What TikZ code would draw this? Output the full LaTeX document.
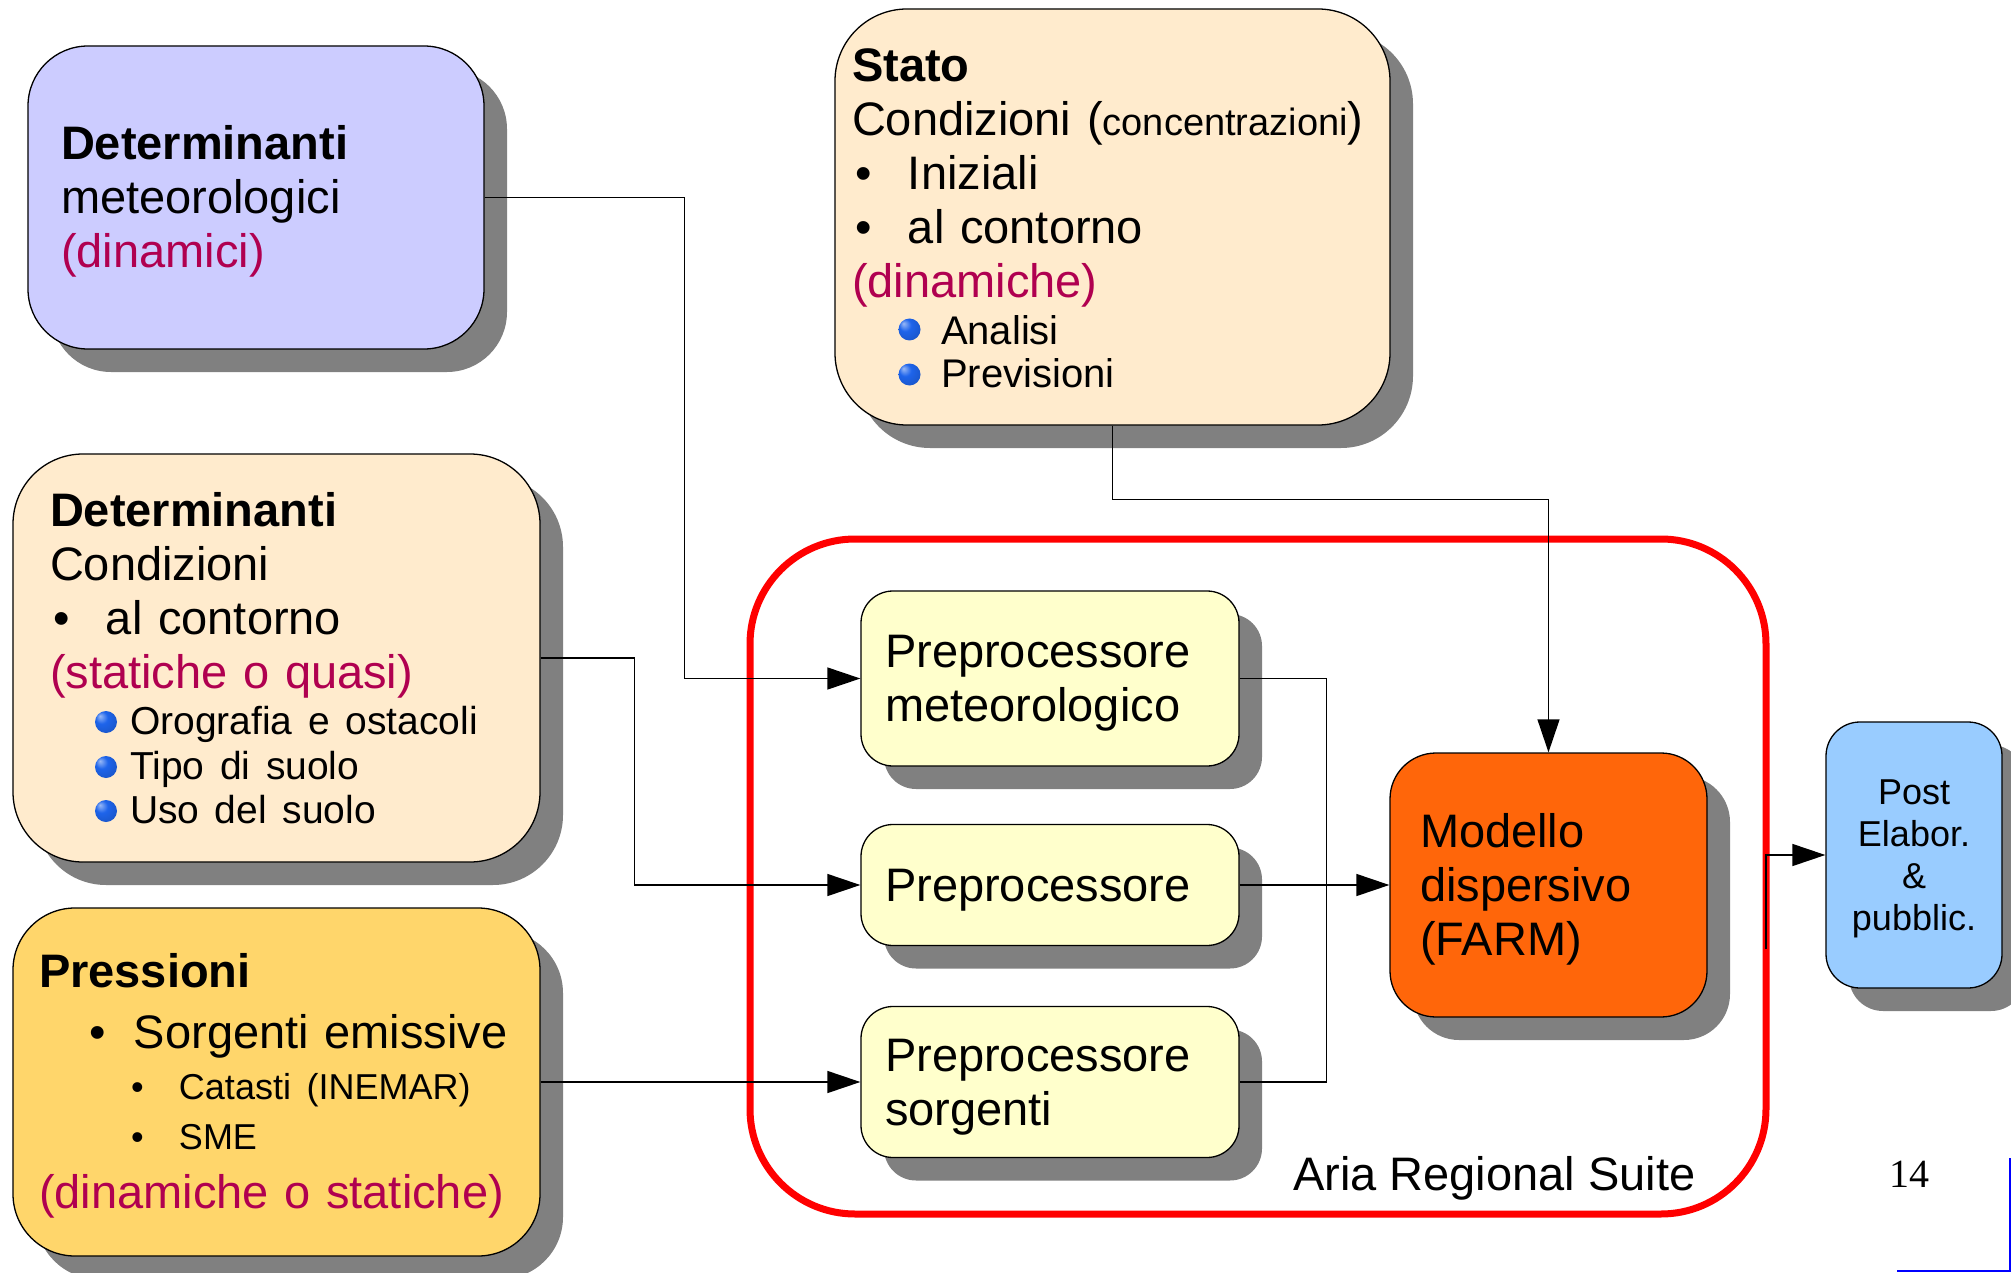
\documentclass[tikz,border=0pt]{standalone}
\usepackage{fontspec}
\setmainfont{Liberation Sans}
\newfontfamily\serifnum{Liberation Serif}
\usetikzlibrary{arrows.meta,shadows}
\definecolor{metblue}{RGB}{204,204,255}
\definecolor{cream}{RGB}{255,235,205}
\definecolor{pressyel}{RGB}{255,214,107}
\definecolor{prepyel}{RGB}{255,255,204}
\definecolor{farmorange}{RGB}{255,102,10}
\definecolor{postblue}{RGB}{153,204,255}
\definecolor{crimson}{RGB}{176,0,80}
\definecolor{shadowgray}{RGB}{128,128,128}
\definecolor{suitered}{RGB}{255,0,0}
\definecolor{ballblue}{RGB}{30,100,235}
\pgfdeclareradialshading{blueball}{\pgfpoint{-14bp}{14bp}}{%
  color(0bp)=(white!55!ballblue); color(14bp)=(ballblue);
  color(34bp)=(ballblue!85!black); color(50bp)=(ballblue!60!black)}
\newcommand\fsz[2]{\fontsize{#1}{#2}\selectfont}
\newcommand\blt[2]{\hspace*{#1pt}\makebox[#2pt][l]{\textbullet}}
\newcommand\dstrut{\rule[-.212em]{0pt}{0pt}}

\begin{document}
\begin{tikzpicture}[x=1pt,y=-1pt,
  panel/.style={draw, line width=1.3pt, inner ysep=0pt, align=left, font=\fsz{47}{54},
    execute at begin node={\rule{0pt}{.905em}},
    execute at end node={\ifvmode\else\dstrut\fi},
    drop shadow={shadow xshift=23pt, shadow yshift=-23pt, fill=shadowgray, opacity=1}},
  prepbox/.style={panel, fill=prepyel, rounded corners=32pt, inner xsep=24pt, text width=330pt},
  ball/.style={shading=blueball},
  link/.style={line width=1.3pt},
  arr/.style={link, -{Triangle[length=33pt,width=22pt]}}]
\useasboundingbox (0,0) rectangle (2011,1273);

% suite frame
\node[draw=suitered, line width=7pt, rounded corners=105pt, inner sep=0pt,
  minimum width=1016pt, minimum height=675pt] (suite) at (1258,876.5) {};
\node[anchor=base west, inner sep=0pt, font=\fsz{47}{54}] (suitelbl) at (1293,1190) {Aria Regional Suite};

% inputs
\node[panel, fill=metblue, rounded corners=60pt, inner xsep=33pt, text width=390pt, minimum height=303pt] (detmet) at (256,197.5)
  {{\bfseries Determinanti}\par meteorologici\par \color{crimson}(dinamici)};
\node[panel, fill=cream, rounded corners=72pt, inner xsep=17pt, text width=521pt, minimum height=416pt] (stato) at (1112.5,217)
  {{\bfseries Stato}\par
   Condizioni ({\fsz{38}{54}concentrazioni})\par
   \blt{3}{53}Iniziali\par
   \blt{3}{53}al contorno\par
   {\color{crimson}(dinamiche)}\par
   {\fsz{40}{47}\hspace*{89pt}Analisi\par}
   {\fsz{40}{43}\hspace*{89pt}Previsioni\dstrut\par}};
\node[panel, fill=cream, rounded corners=70pt, inner xsep=37pt, text width=453pt, minimum height=408pt] (detcond) at (276.5,658)
  {{\bfseries Determinanti}\par
   Condizioni\par
   \blt{3}{53}al contorno\par
   {\color{crimson}(statiche o quasi)}\par
   {\fsz{39}{46}\hspace*{80pt}Orografia e ostacoli\par}
   {\fsz{39}{45}\hspace*{80pt}Tipo di suolo\par}
   {\fsz{39}{44}\hspace*{80pt}Uso del suolo\dstrut\par}};
\node[panel, fill=pressyel, rounded corners=62pt, inner xsep=26pt, text width=475pt, minimum height=348pt] (press) at (276.5,1082)
  {{\bfseries Pressioni}\par
   {\fsz{47}{61}\blt{50}{45}Sorgenti emissive\par}
   {\fsz{36}{51}\blt{92}{48}Catasti (INEMAR)\par}
   {\fsz{36}{50}\blt{92}{48}SME\par}
   {\fsz{47}{59}\color{crimson}(dinamiche o statiche)\dstrut\par}};

% suite content
\node[prepbox, minimum height=175pt] (prepmet) at (1050,678.5) {Preprocessore\par meteorologico};
\node[prepbox, minimum height=121pt] (prep) at (1050,885) {Preprocessore};
\node[prepbox, minimum height=151pt] (prepsorg) at (1050,1082) {Preprocessore\par sorgenti};
\node[panel, fill=farmorange, rounded corners=46pt, inner xsep=30pt, text width=257pt, minimum height=264pt] (modello) at (1548.5,885)
  {Modello\par dispersivo\par (FARM)};

% output
\node[panel, fill=postblue, rounded corners=34pt, inner xsep=10pt, text width=156pt, minimum height=266pt,
  align=center, font=\fsz{36}{42}] (post) at (1914,855) {Post\par Elabor.\par \&\par pubblic.};

% ball bullets
\foreach \y in {329.5,374.5} \shade[ball] (909.5,\y) circle (11);
\foreach \y in {722,767,811} \shade[ball] (106,\y) circle (11);

% connectors
\draw[arr] (detmet.east) -- ++(200,0) |- (prepmet.west);
\draw[arr] (detcond.east) -- ++(94,0) |- (prep.west);
\draw[arr] (press.east) -- (prepsorg.west);
\draw[arr] (stato.south) -- ++(0,74) -| (modello.north);
\draw[link] (prepmet.east) -- ++(87,0) |- (prepsorg.east);
\draw[arr] (prep.east) -- (modello.west);
\coordinate (suiteout) at (1766,949);
\draw[arr] (suiteout) |- (post.west);

% page footer
\node[anchor=base, inner sep=0pt, font=\serifnum\fsz{40}{48}] (pagenum) at (1909,1187) {14};
\draw[blue, line width=1.5pt] (2010,1158) -- (2010,1271) -- (1897,1271);
\end{tikzpicture}
\end{document}
